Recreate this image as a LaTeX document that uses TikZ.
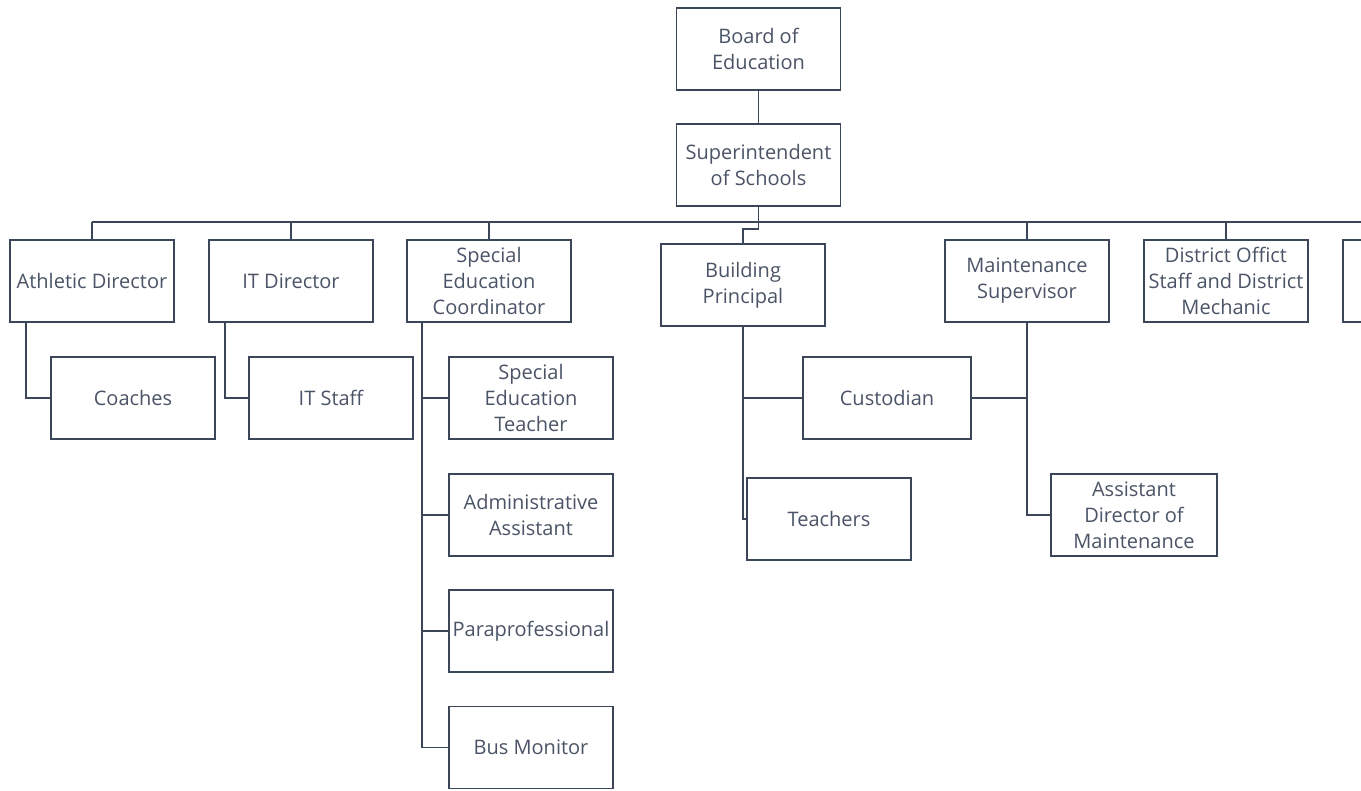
\documentclass[tikz,border=0pt]{standalone}
\usepackage{fontspec}
\setmainfont{Open Sans}
\usepackage{xcolor}
\usepackage{tikz}
\usetikzlibrary{positioning}
\definecolor{orgline}{HTML}{3B4758}
\definecolor{orgtext}{HTML}{4A5466}
\tikzstyle{orgbox}=[draw=orgline, line width=1.3pt, fill=white, text=orgtext,
minimum width=123pt, minimum height=61.5pt, inner sep=2pt, align=center,
font=\fontsize{15pt}{19.5pt}\selectfont]
\tikzstyle{orglink}=[draw=orgline, line width=1.3pt]

\begin{document}
\begin{tikzpicture}[x=0.75pt, y=-0.75pt]
\useasboundingbox (0,0) rectangle (1361,790);

\node[orgbox] (board) at (758.5,49) {Board of\\Education};
\node[orgbox] (sup) at (758.5,165) {Superintendent\\of Schools};

\node[orgbox] (ath) at (92,281) {Athletic Director};
\node[orgbox] (itd) at (291,281) {IT Director};
\node[orgbox] (sped) at (489,281) {Special\\Education\\Coordinator};
\node[orgbox] (bp) at (743,285) {Building\\Principal};
\node[orgbox] (maint) at (1027,281) {Maintenance\\Supervisor};
\node[orgbox] (dist) at (1226,281) {District Offict\\Staff and District\\Mechanic};
\node[orgbox] (more) at (1425,281) {};

\node[orgbox] (coach) at (133,398) {Coaches};
\node[orgbox] (itstaff) at (331,398) {IT Staff};
\node[orgbox] (spt) at (531,398) {Special\\Education\\Teacher};
\node[orgbox] (admin) at (531,515) {Administrative\\Assistant};
\node[orgbox] (para) at (531,631) {Paraprofessional};
\node[orgbox] (bus) at (531,747.5) {Bus Monitor};
\node[orgbox, minimum width=126pt] (cust) at (887,398) {Custodian};
\node[orgbox] (teach) at (829,519) {Teachers};
\node[orgbox, minimum width=124.5pt] (asst) at (1134,515) {Assistant\\Director of\\Maintenance};

\coordinate (barL) at (92,222);
\coordinate (barR) at (1361,222);
\coordinate (jog) at (758.5,229);

\draw[orglink] (board) -- (sup);
\draw[orglink] (barL) -- (barR);
\foreach \n in {ath, itd, sped, maint, dist}
  \draw[orglink] (\n.north) -- (\n.north |- barL);
\draw[orglink] (sup.south) -- (jog) -| (bp.north);

\draw[orglink] (ath.south west) ++(17,0) |- (coach.west);
\draw[orglink] (itd.south west) ++(17,0) |- (itstaff.west);
\foreach \n in {spt, admin, para, bus}
  \draw[orglink] (sped.south west) ++(16,0) |- (\n.west);
\draw[orglink] (bp.south) |- (cust.west);
\draw[orglink] (bp.south) |- (teach.west);
\draw[orglink] (maint.south) |- (cust.east);
\draw[orglink] (maint.south) |- (asst.west);
\end{tikzpicture}
\end{document}
